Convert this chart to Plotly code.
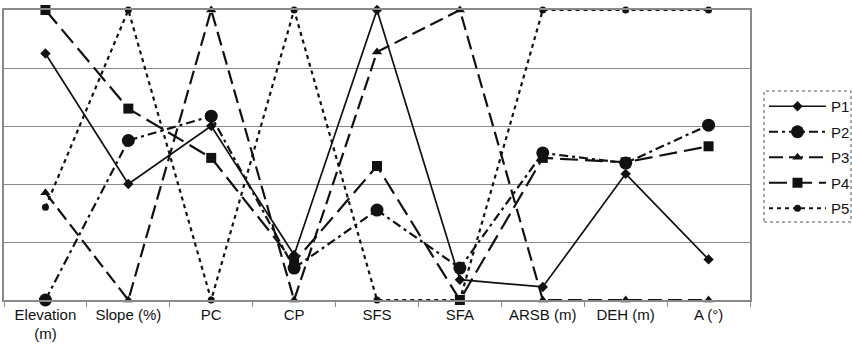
import plotly.graph_objects as go

categories = ["Elevation<br>(m)", "Slope (%)", "PC", "CP", "SFS", "SFA", "ARSB (m)", "DEH (m)", "A (°)"]
p1 = [0.85, 0.40, 0.60, 0.155, 1.0, 0.07, 0.045, 0.435, 0.14]
p2 = [0.0, 0.55, 0.634, 0.11, 0.31, 0.11, 0.507, 0.472, 0.603]
p3 = [0.37, 0.0, 1.0, 0.0, 0.855, 1.0, 0.0, 0.0, 0.0]
p4 = [1.0, 0.66, 0.49, 0.13, 0.462, 0.0, 0.49, 0.475, 0.53]
p5 = [0.32, 1.0, 0.0, 1.0, 0.0, 0.0, 1.0, 1.0, 1.0]

series = [
    ("P1", p1, dict(width=1.7, dash="solid"), dict(symbol="diamond", size=8)),
    ("P2", p2, dict(width=2.2, dash="9px,4px,3px,4px"), dict(symbol="circle", size=13)),
    ("P3", p3, dict(width=2.2, dash="14px,6px"), dict(symbol="triangle-up", size=9)),
    ("P4", p4, dict(width=2.2, dash="18px,7px"), dict(symbol="square", size=10)),
    ("P5", p5, dict(width=2.2, dash="4px,4px"), dict(symbol="circle", size=7)),
]

fig = go.Figure()
for name, vals, line, marker in series:
    fig.add_trace(go.Scatter(
        x=categories, y=vals, name=name, mode="lines+markers",
        line=dict(color="#111111", **line),
        marker=dict(color="#111111", **marker),
        cliponaxis=False, legendgroup=name,
    ))

L, R, T, B = 4, 102, 10, 46
W, H = 852, 346
pw, ph = W - L - R, H - T - B
lx0, lx1, ly0, ly1 = 764, 851, 91, 222

fig.update_layout(
    width=W, height=H,
    margin=dict(l=L, r=R, t=T, b=B, pad=0, autoexpand=False),
    plot_bgcolor="white", paper_bgcolor="white",
    font=dict(family="Liberation Sans, Arial, sans-serif", size=15, color="#111111"),
    showlegend=True,
    legend=dict(
        x=(lx0 - L) / pw, y=(H - B - ly0 + 1) / ph, xanchor="left", yanchor="top",
        xref="paper", yref="paper",
        bgcolor="rgba(0,0,0,0)", borderwidth=0,
        font=dict(size=15), itemwidth=57, tracegroupgap=3,
    ),
    xaxis=dict(
        type="category", range=[-0.5, 8.5], automargin=False,
        showgrid=False, showline=True, linecolor="#8a8a8a", linewidth=1.5,
        mirror=True, ticks="outside", tickson="boundaries", ticklen=5,
        tickcolor="#8a8a8a", tickfont=dict(size=15),
    ),
    yaxis=dict(
        range=[0, 1], dtick=0.2, showgrid=True, gridcolor="#8a8a8a", gridwidth=1.2,
        showline=True, linecolor="#8a8a8a", linewidth=1.5, mirror=True, automargin=False,
        showticklabels=False, ticks="", zeroline=False,
    ),
    shapes=[dict(
        type="rect", xref="paper", yref="paper",
        x0=(lx0 - L) / pw, x1=(lx1 - L) / pw,
        y0=(H - B - ly1) / ph, y1=(H - B - ly0) / ph,
        line=dict(color="#555555", width=1, dash="dot"),
    )],
)

fig.write_html(
    "out.html",
    config={"displayModeBar": False},
    post_script="document.body.style.margin='0px';document.body.style.overflow='hidden';",
)
